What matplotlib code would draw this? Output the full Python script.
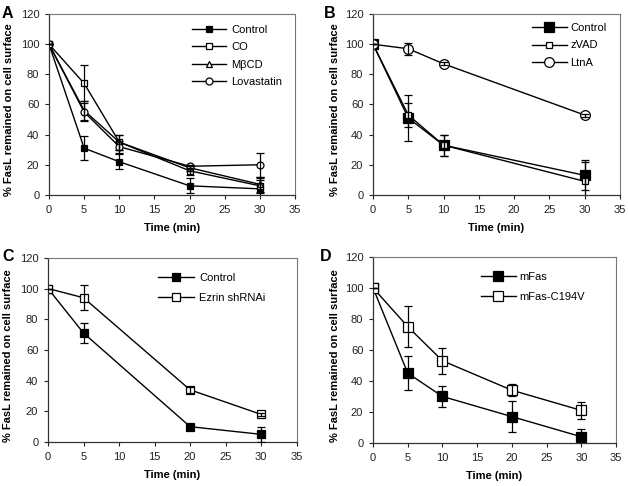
import matplotlib
matplotlib.use("Agg")
import matplotlib.pyplot as plt

plt.rcParams["font.family"] = ["Liberation Sans", "DejaVu Sans"]

# ==========================
# DATA
# ==========================
# Panel A
a_time = [0, 5, 10, 20, 30]
a_control = [100, 31, 22, 6, 4]
a_control_err = [0, 8, 5, 5, 6]
a_co = [100, 74, 35, 16, 6]
a_co_err = [0, 12, 5, 3, 5]
a_mbcd = [100, 56, 35, 18, 7]
a_mbcd_err = [0, 6, 5, 2, 5]
a_lova = [100, 55, 32, 19, 20]
a_lova_err = [0, 6, 4, 1, 8]

# Panel B
b_time = [0, 5, 10, 30]
b_control = [100, 51, 33, 13]
b_control_err = [0, 15, 7, 10]
b_zvad = [100, 53, 33, 9]
b_zvad_err = [0, 8, 7, 13]
b_ltna = [100, 97, 87, 53]
b_ltna_err = [0, 4, 1, 1]

# Panel C
c_time = [0, 5, 20, 30]
c_control = [100, 71, 10, 5]
c_control_err = [0, 6.5, 1, 5]
c_ezrin = [100, 94, 34, 18]
c_ezrin_err = [0, 8, 2, 1]

# Panel D
d_time = [0, 5, 10, 20, 30]
d_mfas = [100, 45, 30, 17, 4]
d_mfas_err = [0, 11, 6.5, 10, 5]
d_c194v = [100, 75, 53, 34, 21]
d_c194v_err = [0, 13, 8.5, 4, 5.5]

xticks = [0, 5, 10, 15, 20, 25, 30, 35]
yticks = [0, 20, 40, 60, 80, 100, 120]
ylabel = "% FasL remained on cell surface"
xlabel = "Time (min)"

FS = 8


def style_axes(ax, label_x):
    ax.set_xlim(0, 35)
    ax.set_ylim(0, 120)
    ax.set_xticks(xticks)
    ax.set_yticks(yticks)
    ax.tick_params(labelsize=FS, length=3, width=0.8, direction="out",
                   colors="#222222", pad=4)
    for side in ["top", "right"]:
        ax.spines[side].set_color("#777777")
        ax.spines[side].set_linewidth(0.8)
    for side in ["left", "bottom"]:
        ax.spines[side].set_color("#333333")
        ax.spines[side].set_linewidth(0.9)
    ax.set_xlabel(xlabel, fontsize=FS, fontweight="bold", labelpad=6)
    ax.set_ylabel(ylabel, fontsize=FS, fontweight="bold")
    ax.yaxis.set_label_coords(label_x, 0.47)


def series(ax, x, y, err, marker, filled, ms, label):
    ax.errorbar(x, y, yerr=err, fmt="none", ecolor="black",
                capsize=3, elinewidth=0.9, capthick=0.9, zorder=3)
    ax.plot(x, y, color="black", lw=1, marker=marker, ms=ms,
            mfc="black" if filled else "white", mec="black", mew=0.9,
            label=label, zorder=2)


fig = plt.figure(figsize=(6.28, 4.86), dpi=100)

# =====================================
# PANEL A
# =====================================
ax = fig.add_axes([0.078, 0.599, 0.392, 0.372])
series(ax, a_time, a_control, a_control_err, "s", True, 5, "Control")
series(ax, a_time, a_co, a_co_err, "s", False, 5, "CO")
series(ax, a_time, a_mbcd, a_mbcd_err, "^", False, 5, "M\u03b2CD")
series(ax, a_time, a_lova, a_lova_err, "o", False, 5, "Lovastatin")
style_axes(ax, -0.143)
ax.legend(loc="upper left", bbox_to_anchor=(0.56, 0.97), frameon=False,
          fontsize=FS, handlelength=3.0, labelspacing=0.65, borderpad=0,
          handletextpad=0.5)

# =====================================
# PANEL B
# =====================================
ax = fig.add_axes([0.594, 0.599, 0.393, 0.372])
series(ax, b_time, b_control, b_control_err, "s", True, 7, "Control")
series(ax, b_time, b_zvad, b_zvad_err, "s", False, 5, "zVAD")
series(ax, b_time, b_ltna, b_ltna_err, "o", False, 7, "LtnA")
style_axes(ax, -0.135)
ax.legend(loc="upper left", bbox_to_anchor=(0.62, 0.98), frameon=False,
          fontsize=FS, handlelength=3.2, labelspacing=0.65, borderpad=0,
          handletextpad=0.3)

# =====================================
# PANEL C
# =====================================
ax = fig.add_axes([0.0764, 0.0905, 0.396, 0.379])
series(ax, c_time, c_control, c_control_err, "s", True, 6, "Control")
series(ax, c_time, c_ezrin, c_ezrin_err, "s", False, 6, "Ezrin shRNAi")
style_axes(ax, -0.14)
ax.legend(loc="upper left", bbox_to_anchor=(0.42, 0.95), frameon=False,
          fontsize=FS, handlelength=3.2, labelspacing=0.9, borderpad=0,
          handletextpad=0.5)

# =====================================
# PANEL D
# =====================================
ax = fig.add_axes([0.594, 0.0885, 0.387, 0.383])
series(ax, d_time, d_mfas, d_mfas_err, "s", True, 7, "mFas")
series(ax, d_time, d_c194v, d_c194v_err, "s", False, 7, "mFas-C194V")
style_axes(ax, -0.135)
ax.legend(loc="upper left", bbox_to_anchor=(0.42, 0.95), frameon=False,
          fontsize=FS, handlelength=3.2, labelspacing=0.9, borderpad=0,
          handletextpad=0.3)

# panel letters
for letter, fx, fy in [("A", 2, 13), ("B", 324, 13), ("C", 2, 256), ("D", 320, 256)]:
    fig.text(fx / 628, 1 - fy / 486, letter, fontsize=11.5, fontweight="bold",
             ha="left", va="center")

plt.savefig("out.png", dpi=100)
